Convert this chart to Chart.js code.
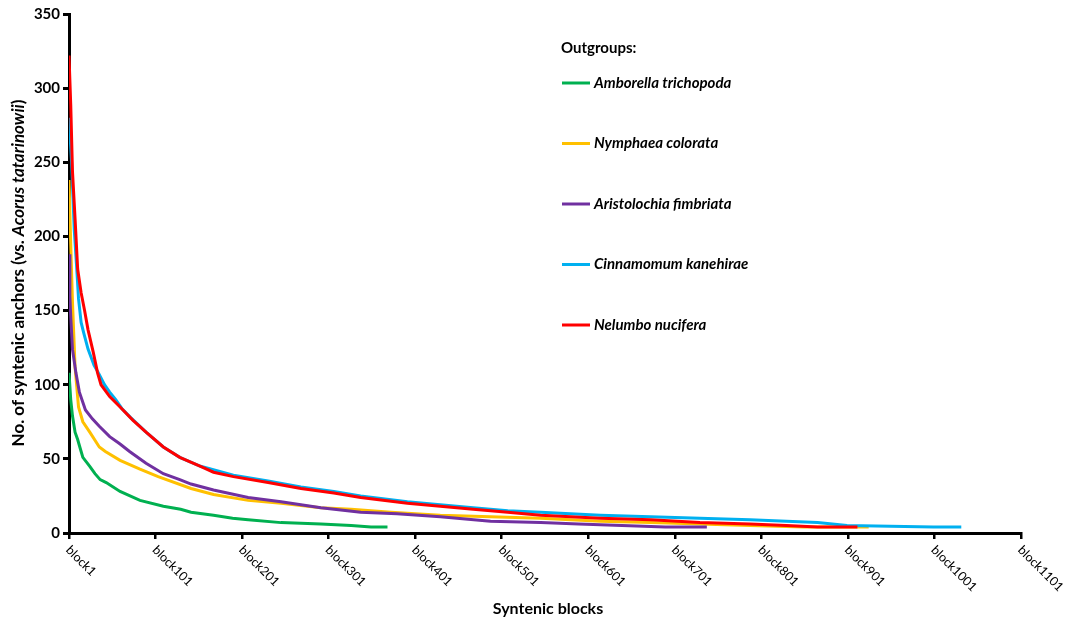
<!DOCTYPE html>
<html>
<head>
<meta charset="utf-8">
<script src="https://cdn.jsdelivr.net/npm/chart.js@4.4.1/dist/chart.umd.min.js"></script>
<style>
  html, body { margin: 0; padding: 0; background: #ffffff; }
  #wrap { width: 1073px; height: 623px; }
</style>
</head>
<body>
<div id="wrap"><canvas id="syntenyChart" width="1073" height="623"></canvas></div>
<script>
// [block number, no. of syntenic anchors]
const amborella = [[1,108],[3,90],[5,79],[8,68],[11,63],[14,57],[17,51],[21,48],[25,45],[31,40],[37,36],[44,34],[60,28],[83,22],[110,18],[130,16],[142,14],[168,12],[190,10],[208,9],[246,7],[292,6],[327,5],[350,4],[369,4]];
const nymphaea = [[1,238],[3,195],[5,156],[8,112],[12,85],[17,75],[25,68],[36,58],[43,55],[60,49],[83,43],[104,38],[142,30],[168,26],[208,22],[246,20],[292,17],[327,16],[373,14],[430,12],[488,11],[546,10],[615,8],[673,7],[730,6],[788,5],[850,4],[925,4]];
const aristolochia = [[1,188],[2,160],[3,146],[5,124],[9,108],[13,95],[20,83],[28,77],[36,72],[48,65],[60,60],[71,55],[90,47],[110,40],[129,36],[142,33],[168,29],[208,24],[246,21],[292,17],[338,14],[380,13],[430,11],[488,8],[546,7],[590,6],[640,5],[690,4],[738,4]];
const cinnamomum = [[1,280],[4,250],[7,205],[10,178],[12,158],[15,142],[18,135],[23,124],[30,113],[35,108],[42,100],[48,95],[55,90],[62,84],[72,78],[90,68],[110,58],[129,51],[153,45],[191,39],[231,35],[269,31],[307,28],[338,25],[392,21],[430,19],[468,17],[508,15],[546,14],[615,12],[673,11],[730,10],[788,9],[830,8],[866,7],[900,5],[1000,4],[1032,4]];
const nelumbo = [[1,322],[3,289],[5,244],[8,212],[11,178],[15,162],[19,150],[23,137],[29,122],[34,108],[38,100],[48,92],[60,85],[75,76],[90,68],[110,58],[129,51],[153,45],[168,41],[191,38],[231,34],[269,30],[307,27],[338,24],[392,20],[430,18],[468,16],[508,14],[546,12],[615,10],[673,9],[730,7],[788,6],[830,5],[866,4],[912,4]];

const seriesNames = ['Amborella trichopoda', 'Nymphaea colorata', 'Aristolochia fimbriata', 'Cinnamomum kanehirae', 'Nelumbo nucifera'];
const seriesData = [amborella, nymphaea, aristolochia, cinnamomum, nelumbo];
const seriesColors = ['#00B050', '#FFC000', '#7030A0', '#00B0F0', '#FF0000'];

const xTickValues = [1, 101, 201, 301, 401, 501, 601, 701, 801, 901, 1001, 1101];
const xTickLabels = ['block1', 'block101', 'block201', 'block301', 'block401', 'block501', 'block601', 'block701', 'block801', 'block901', 'block1001', 'block1101'];

const FONT = 'Lato, "Open Sans", sans-serif';

// titles, rotated x labels and the legend are drawn by hand
const figureText = {
    id: 'figureText',
    afterDraw(chart) {
        const ctx = chart.ctx;
        const xs = chart.scales.x;
        const ys = chart.scales.y;
        ctx.save();
        ctx.fillStyle = '#000000';

        // x tick labels, going down to the right
        ctx.font = '12.5px ' + FONT;
        ctx.textAlign = 'left';
        ctx.textBaseline = 'middle';
        xTickValues.forEach((v, i) => {
            ctx.save();
            ctx.translate(xs.getPixelForValue(v) - 1, ys.bottom + 15);
            ctx.rotate(Math.PI / 4);
            ctx.fillText(xTickLabels[i], 0, 0);
            ctx.restore();
        });

        // x title
        ctx.font = 'bold 16px ' + FONT;
        ctx.textAlign = 'center';
        ctx.fillText('Syntenic blocks', 548, 609);

        // y title, mixed italic
        const parts = [
            ['No. of syntenic anchors (vs. ', 'bold 17px '],
            ['Acorus tatarinowii', 'italic bold 17px '],
            [')', 'bold 17px ']
        ];
        let total = 0;
        parts.forEach(p => { ctx.font = p[1] + FONT; total += ctx.measureText(p[0]).width; });
        ctx.save();
        ctx.translate(19, 273);
        ctx.rotate(-Math.PI / 2);
        ctx.textAlign = 'left';
        let pos = -total / 2;
        parts.forEach(p => {
            ctx.font = p[1] + FONT;
            ctx.fillText(p[0], pos, 0);
            pos += ctx.measureText(p[0]).width;
        });
        ctx.restore();

        // legend
        ctx.textAlign = 'left';
        ctx.font = 'bold 15px ' + FONT;
        ctx.fillText('Outgroups:', 561, 48);
        ctx.font = 'italic bold 15px ' + FONT;
        seriesNames.forEach((name, i) => {
            const ly = 83 + i * 60.5;
            ctx.strokeStyle = seriesColors[i];
            ctx.lineWidth = 3;
            ctx.beginPath();
            ctx.moveTo(562, ly);
            ctx.lineTo(590, ly);
            ctx.stroke();
            ctx.fillText(name, 594, ly);
        });
        ctx.restore();
    }
};

const canvas = document.getElementById('syntenyChart');

new Chart(canvas.getContext('2d'), {
    type: 'line',
    data: {
        datasets: seriesData.map((rows, i) => ({
            label: seriesNames[i],
            data: rows.map(r => ({ x: r[0], y: r[1] })),
            borderColor: seriesColors[i],
            borderWidth: 3,
            pointRadius: 0,
            tension: 0,
            fill: false,
            order: seriesData.length - i   // red on top, green at the bottom
        }))
    },
    options: {
        responsive: false,
        animation: false,
        layout: { padding: { left: 0, right: 52, top: 14, bottom: 0 } },
        plugins: {
            legend: { display: false },
            tooltip: { enabled: false }
        },
        scales: {
            x: {
                type: 'linear',
                min: 1,
                max: 1101,
                afterBuildTicks: scale => { scale.ticks = xTickValues.map(v => ({ value: v })); },
                afterFit: scale => { scale.height = 90; },
                ticks: { display: false },
                grid: { drawOnChartArea: false, tickLength: 6, color: '#000000', lineWidth: 2.5 },
                border: { display: true, color: '#000000', width: 3 }
            },
            y: {
                min: 0,
                max: 350,
                afterFit: scale => { scale.width = 69; },
                ticks: {
                    stepSize: 50,
                    padding: 3,
                    color: '#000000',
                    font: { family: FONT, size: 15, weight: 'bold' }
                },
                grid: { drawOnChartArea: false, tickLength: 6, color: '#000000', lineWidth: 3 },
                border: { display: true, color: '#000000', width: 3 }
            }
        }
    },
    plugins: [figureText]
});
</script>
</body>
</html>
